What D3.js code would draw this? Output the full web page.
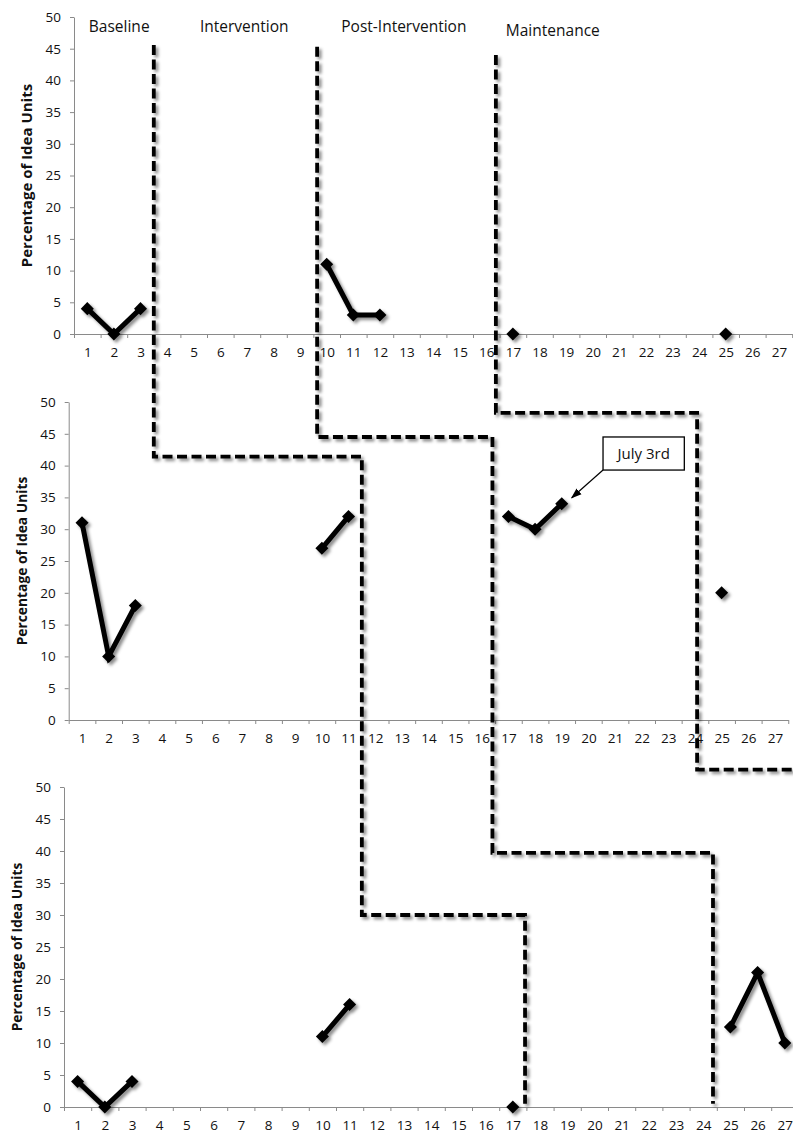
<!DOCTYPE html>
<html>
<head>
<meta charset="utf-8">
<script src="https://cdn.jsdelivr.net/npm/d3@7"></script>
<style>
  body { margin: 0; background: #fff; }
  svg { display: block; font-family: "Open Sans", Lato, sans-serif; }
</style>
</head>
<body>
<div class="chart-area"></div>
<script>
// sessions (x categories) and y ticks
const sessions = [1,2,3,4,5,6,7,8,9,10,11,12,13,14,15,16,17,18,19,20,21,22,23,24,25,26,27];
const yTicks = [0,5,10,15,20,25,30,35,40,45,50];

// participant data: session -> percentage of idea units
const p1Sessions = [1,2,3,10,11,12,17,25];
const p1Values   = [4,0,4,11,3,3,0,0];
const p2Sessions = [1,2,3,10,11,17,18,19,25];
const p2Values   = [31,10,18,27,32,32,30,34,20];
const p3Sessions = [1,2,3,10,11,17,25,26,27];
const p3Values   = [4,0,4,11,16,0,12.5,21,10];

// phase labels (top panel)
const phaseNames = ["Baseline", "Intervention", "Post-Intervention", "Maintenance"];
const phaseLabelAt = [2.2, 6.9, 12.9, 18.5];

// phase change lines, staircase across panels: xs = horizontal stops, ys = vertical stops
const phaseLines = [
    { xs: [["top",3.5],["mid",11.5],["bot",17.45]], ys: [["top",45.6],["mid",41.4],["bot",30],["bot",0.5]] },
    { xs: [["top",9.64],["mid",16.4],["bot",24.36]], ys: [["top",45.3],["mid",44.5],["bot",39.7],["bot",0.5]] },
    { xs: [["top",16.36],["mid",24.08],["bot",28.5]], ys: [["top",44],["mid",48.3],["bot",52.7]] }
];

const width = 793;
const height = 1142;

const panels = [
    { key: "top", left: 74,   step: 26.6,  y50: 17,  y0: 334,  sessions: p1Sessions, values: p1Values, titleSize: 15 },
    { key: "mid", left: 68.7, step: 26.65, y50: 402, y0: 720,  sessions: p2Sessions, values: p2Values, titleSize: 13.8 },
    { key: "bot", left: 64,   step: 27.2,  y50: 787, y0: 1107, sessions: p3Sessions, values: p3Values, titleSize: 13.8 }
];

const svg = d3.select(".chart-area")
    .append("svg")
    .attr("width", width)
    .attr("height", height);

const defs = svg.append("defs");
defs.append("filter")
    .attr("id", "shadow")
    .attr("x", "-50%").attr("y", "-50%").attr("width", "200%").attr("height", "200%")
    .append("feDropShadow")
    .attr("dx", 2.5).attr("dy", 2.5)
    .attr("stdDeviation", 1.6)
    .attr("flood-color", "#000")
    .attr("flood-opacity", 0.45);

defs.append("marker")
    .attr("id", "arrow")
    .attr("viewBox", "0 0 10 10")
    .attr("refX", 9).attr("refY", 5)
    .attr("markerWidth", 9).attr("markerHeight", 9)
    .attr("orient", "auto")
    .append("path")
    .attr("d", "M0,1.5 L10,5 L0,8.5 Z")
    .attr("fill", "#000");

const scales = {};

panels.forEach(p => {
    const x = d3.scaleLinear()
        .domain([0.5, 27.5])
        .range([p.left, p.left + 27 * p.step]);
    const y = d3.scaleLinear()
        .domain([0, 50])
        .range([p.y0, p.y50]);
    scales[p.key] = { x, y };

    const g = svg.append("g").attr("class", "panel-" + p.key);

    // y axis
    const yAxis = g.append("g")
        .attr("transform", `translate(${p.left},0)`)
        .call(d3.axisLeft(y).tickValues(yTicks).tickSize(4).tickPadding(9).tickSizeOuter(0));

    // x axis: tick marks between sessions
    const xAxis = g.append("g")
        .attr("transform", `translate(0,${p.y0})`)
        .call(d3.axisBottom(x)
            .tickValues(d3.range(0.5, 28, 1))
            .tickFormat("")
            .tickSize(4)
            .tickSizeOuter(0));

    // x labels centred on sessions
    const xLabels = g.append("g")
        .attr("transform", `translate(0,${p.y0})`)
        .call(d3.axisBottom(x)
            .tickValues(sessions)
            .tickFormat(d3.format("d"))
            .tickSize(0)
            .tickPadding(13));
    xLabels.select(".domain").remove();

    [yAxis, xAxis].forEach(a => {
        a.select(".domain").attr("stroke", "#8a8a8a");
        a.selectAll(".tick line").attr("stroke", "#8a8a8a");
    });
    g.selectAll(".tick text")
        .attr("font-size", 13.5)
        .attr("fill", "#111")
        .attr("font-family", "'Open Sans', Lato, sans-serif");

    // y title
    g.append("text")
        .attr("transform", `translate(${p.left - 47},${(p.y0 + p.y50) / 2}) rotate(-90)`)
        .attr("text-anchor", "middle")
        .attr("dy", "0.35em")
        .attr("font-weight", "bold")
        .attr("font-size", p.titleSize)
        .attr("fill", "#111")
        .text("Percentage of Idea Units");

    // data: full session list with gaps
    const full = sessions.map(s => {
        const i = p.sessions.indexOf(s);
        return { s: s, v: i >= 0 ? p.values[i] : null };
    });

    const line = d3.line()
        .defined(d => d.v != null)
        .x(d => x(d.s))
        .y(d => y(d.v));

    const marks = g.append("g").attr("filter", "url(#shadow)");

    marks.append("path")
        .datum(full)
        .attr("fill", "none")
        .attr("stroke", "#000")
        .attr("stroke-width", 5)
        .attr("stroke-linejoin", "miter")
        .attr("d", line);

    const diamond = d3.symbol().type(d3.symbolSquare).size(85);
    marks.selectAll(".pt")
        .data(full.filter(d => d.v != null))
        .enter().append("path")
        .attr("class", "pt")
        .attr("d", diamond)
        .attr("fill", "#000")
        .attr("transform", d => `translate(${x(d.s)},${y(d.v)}) rotate(45)`);
});

// phase labels
const topScale = scales.top;
svg.append("g").selectAll("text")
    .data(phaseNames)
    .enter().append("text")
    .attr("x", (d, i) => topScale.x(phaseLabelAt[i]))
    .attr("y", (d, i) => i === 3 ? 36 : 32)
    .attr("text-anchor", "middle")
    .attr("font-size", 15.5)
    .attr("fill", "#111")
    .text(d => d);

// phase change staircase lines
phaseLines.forEach(pl => {
    const px = pl.xs.map(([k, v]) => scales[k].x(v));
    const py = pl.ys.map(([k, v]) => scales[k].y(v));
    let d = `M${px[0]},${py[0]}`;
    for (let i = 1; i < py.length; i++) {
        d += `V${py[i]}`;
        if (i < px.length) d += `H${px[i]}`;
    }
    svg.append("path")
        .attr("d", d)
        .attr("fill", "none")
        .attr("stroke", "#000")
        .attr("stroke-width", 3.8)
        .attr("stroke-dasharray", "10,4.5")
        .attr("filter", "url(#shadow)");
});

// "July 3rd" callout in middle panel
const midScale = scales.mid;
const boxX0 = midScale.x(20.55), boxX1 = midScale.x(23.6);
const boxY0 = midScale.y(44.5), boxY1 = midScale.y(39.3);
const callout = svg.append("g");
callout.append("rect")
    .attr("x", boxX0).attr("y", boxY0)
    .attr("width", boxX1 - boxX0).attr("height", boxY1 - boxY0)
    .attr("fill", "#fff")
    .attr("stroke", "#000")
    .attr("stroke-width", 1.3);
callout.append("text")
    .attr("x", (boxX0 + boxX1) / 2)
    .attr("y", (boxY0 + boxY1) / 2)
    .attr("dy", "0.35em")
    .attr("text-anchor", "middle")
    .attr("font-size", 15)
    .attr("fill", "#111")
    .text("July 3rd");
callout.append("line")
    .attr("x1", boxX0).attr("y1", boxY1)
    .attr("x2", midScale.x(19) + 10).attr("y2", midScale.y(34) - 6)
    .attr("stroke", "#000")
    .attr("stroke-width", 1.2)
    .attr("marker-end", "url(#arrow)");
</script>
</body>
</html>
